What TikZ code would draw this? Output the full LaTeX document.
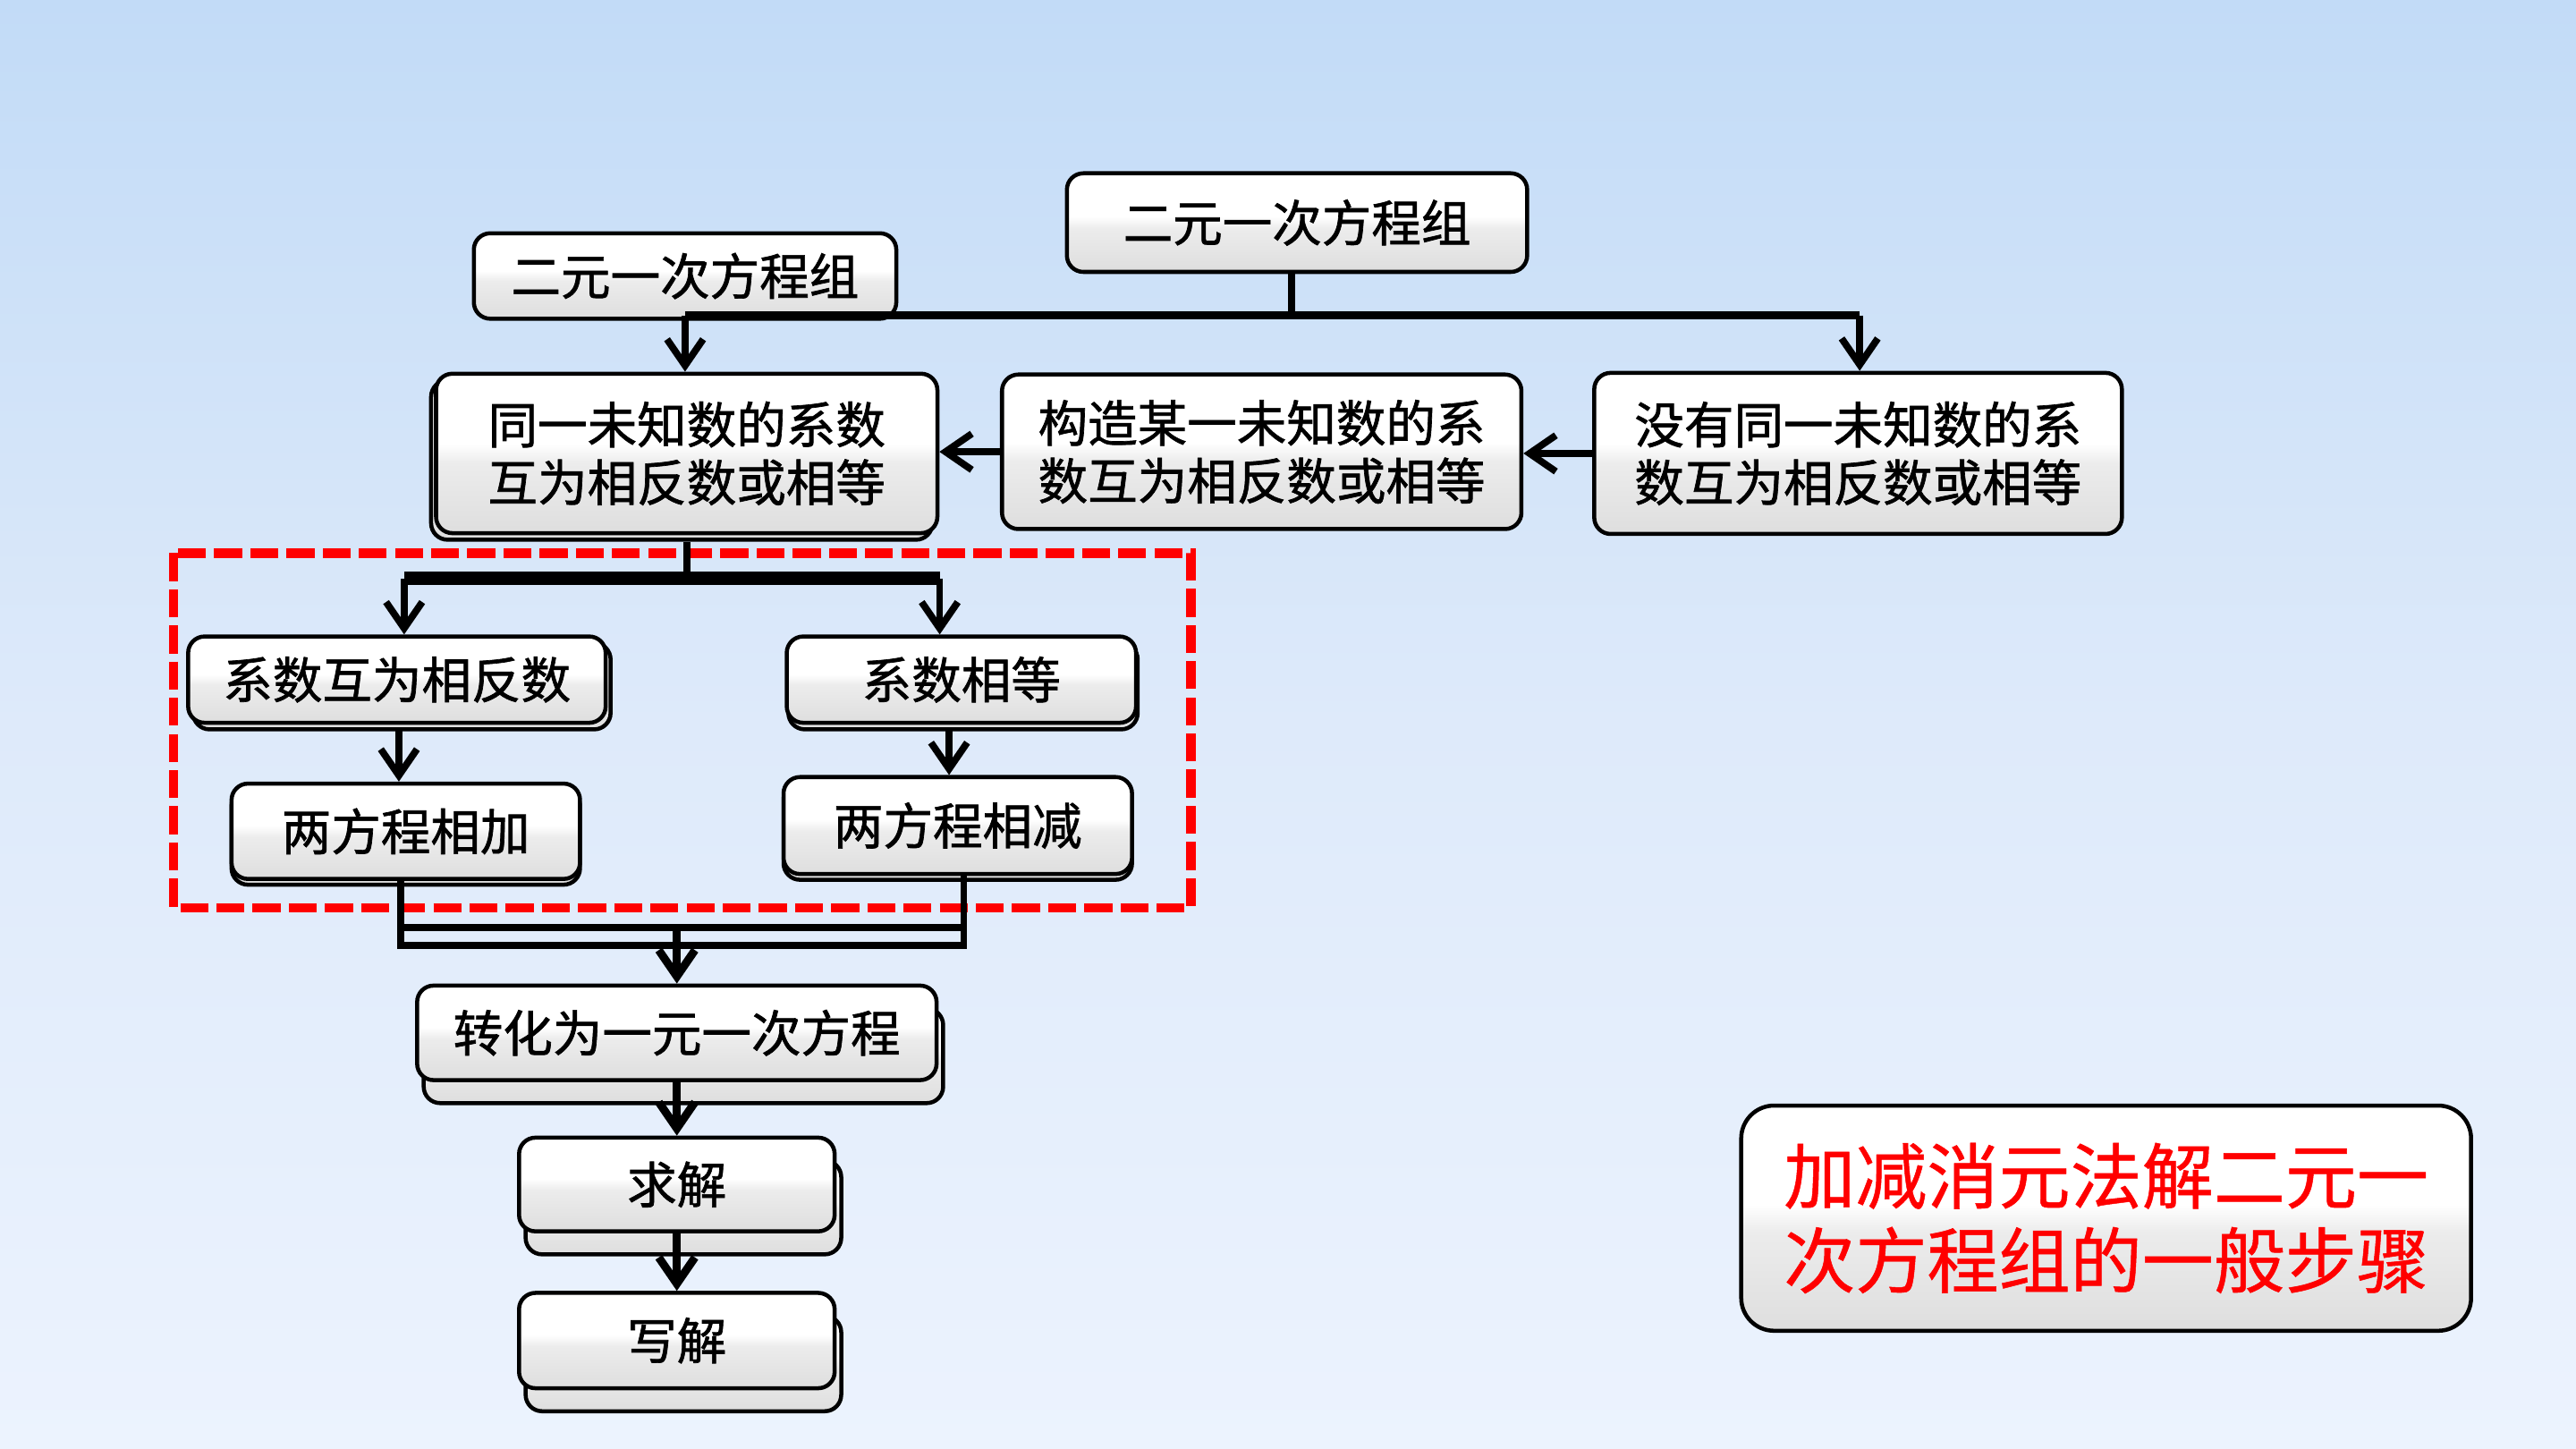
\documentclass[tikz,border=0pt]{standalone}
\usepackage{fontspec}
\usetikzlibrary{arrows.meta}
\newfontfamily\cjk[FakeBold=1.2]{Noto Sans CJK SC}
\newfontfamily\cjktitle[FakeBold=0.6]{Noto Sans CJK SC}
\definecolor{bgtop}{RGB}{194,219,247}
\definecolor{bgmid}{RGB}{222,234,250}
\definecolor{bgbot}{RGB}{236,243,254}
\definecolor{boxgray}{RGB}{222,222,222}
\definecolor{boxmid}{RGB}{236,236,236}
\definecolor{titlered}{RGB}{255,0,0}
\pgfdeclareverticalshading{boxshade}{100bp}{color(0bp)=(boxgray); color(25bp)=(boxgray); color(47bp)=(boxmid); color(53bp)=(white); color(75bp)=(white); color(100bp)=(white)}
\tikzset{
  box/.style={draw=black, line width=0.7pt, rounded corners=0.1cm, shading=boxshade,
    inner sep=0pt, align=center, text=black, font=\cjk\fontsize{8.6pt}{10pt}\selectfont},
  backbox/.style={box},
  conn/.style={draw=black, line width=1.2pt, -{Straight Barb[length=0.16cm,width=0.22cm]}},
  plain/.style={draw=black, line width=1.2pt},
  redframe/.style={draw=titlered, line width=1.6pt, dash pattern=on 0.17cm off 0.05cm}
}
\begin{document}
\begin{tikzpicture}[x=0.01cm,y=-0.01cm]
  % background
  \shade[top color=bgtop, bottom color=bgbot, middle color=bgmid] (0,0) rectangle (1568,882);
  \useasboundingbox (0,0) rectangle (1568,882);

  % back layers
  \node[backbox, minimum width=3.05cm, minimum height=0.97cm] (Cb) at (415,280) {};
  \node[backbox, minimum width=2.54cm, minimum height=0.525cm] (Fb) at (244.6,417.7) {};
  \node[backbox, minimum width=2.125cm, minimum height=0.525cm] (Gb) at (586.2,417.7) {};
  \node[backbox, minimum width=2.12cm, minimum height=0.58cm] (Hb) at (247,509.5) {};
  \node[backbox, minimum width=2.12cm, minimum height=0.59cm] (Ib) at (583,506) {};
  \node[backbox, minimum width=3.16cm, minimum height=0.575cm] (Jb) at (416,642.7) {};
  \node[backbox, minimum width=1.92cm, minimum height=0.57cm] (Kb) at (416,735) {};
  \node[backbox, minimum width=1.92cm, minimum height=0.58cm] (Lb) at (416,830) {};

  % red dashed frame
  \draw[redframe] (105.5,336.7) rectangle (725,552.6);

  % front boxes
  \node[box, minimum width=2.57cm, minimum height=0.52cm] (A) at (417,168) {二元一次方程组};
  \node[box, minimum width=2.80cm, minimum height=0.60cm] (B) at (789.5,135.5) {二元一次方程组};
  \node[box, minimum width=3.05cm, minimum height=0.97cm] (C) at (418,276) {同一未知数的系数\\互为相反数或相等};
  \node[box, minimum width=3.16cm, minimum height=0.94cm] (D) at (768,275) {构造某一未知数的系\\数互为相反数或相等};
  \node[box, minimum width=3.21cm, minimum height=0.98cm] (E) at (1131,276) {没有同一未知数的系\\数互为相反数或相等};
  \node[box, minimum width=2.54cm, minimum height=0.525cm] (F) at (241.6,413.7) {系数互为相反数};
  \node[box, minimum width=2.125cm, minimum height=0.525cm] (G) at (585.2,413.7) {系数相等};
  \node[box, minimum width=2.12cm, minimum height=0.58cm] (H) at (247,506) {两方程相加};
  \node[box, minimum width=2.12cm, minimum height=0.59cm] (I) at (583,502.5) {两方程相减};
  \node[box, minimum width=3.16cm, minimum height=0.575cm] (J) at (412,628.7) {转化为一元一次方程};
  \node[box, minimum width=1.92cm, minimum height=0.57cm] (K) at (412,721) {求解};
  \node[box, minimum width=1.92cm, minimum height=0.58cm] (L) at (412,816) {写解};
  \node[box, rounded corners=0.2cm, minimum width=4.44cm, minimum height=1.37cm,
        text=titlered, font=\cjktitle\fontsize{12.4pt}{14.6pt}\selectfont] (M) at (1282,741.5)
        {加减消元法解二元一\\次方程组的一般步骤};

  % junction coordinates
  \coordinate (barB) at (786,192);
  \coordinate (barL) at (417,192);
  \coordinate (barR) at (1132,192);
  \coordinate (bar2C) at (418,352);
  \coordinate (bar2L) at (246,352);
  \coordinate (bar2R) at (572,352);
  \coordinate (hTop) at (243.8,535.3);
  \coordinate (iTop) at (586.7,531.8);
  \coordinate (m1) at (243.8,575.3);
  \coordinate (m2) at (586.7,575.3);
  \coordinate (n1) at (243.8,564.4);
  \coordinate (n2) at (586.7,564.4);
  \coordinate (mid) at (412,564.4);
  \coordinate (fg) at (242.8,444);
  \coordinate (gi) at (577.7,444);

  % connectors
  \draw[plain] (B.south -| barB) -- (barB);
  \draw[plain, line width=1.5pt] (barL) -- (barR);
  \draw[conn] (barL) -- (barL |- C.north);
  \draw[conn] (barR) -- (barR |- E.north);
  \draw[conn] (E.west) -- (E.west -| D.east);
  \draw[conn] (D.west) -- (D.west -| C.east);
  \draw[plain] (Cb.south -| bar2C) -- (bar2C);
  \draw[plain, line width=2.2pt] (bar2L) -- (bar2R);
  \draw[conn] (bar2L) -- (bar2L |- F.north);
  \draw[conn] (bar2R) -- (bar2R |- G.north);
  \draw[conn] (fg) -- (fg |- H.north);
  \draw[conn] (gi) -- (gi |- I.north);
  \draw[plain] (hTop) -- (m1) -- (m2) -- (iTop);
  \draw[plain] (n1) -- (n2);
  \draw[conn, line width=1.4pt] (mid) -- (mid |- J.north);
  \draw[conn, line width=1.4pt] (J.south) -- (K.north);
  \draw[conn, line width=1.4pt] (K.south) -- (L.north);
\end{tikzpicture}
\end{document}
